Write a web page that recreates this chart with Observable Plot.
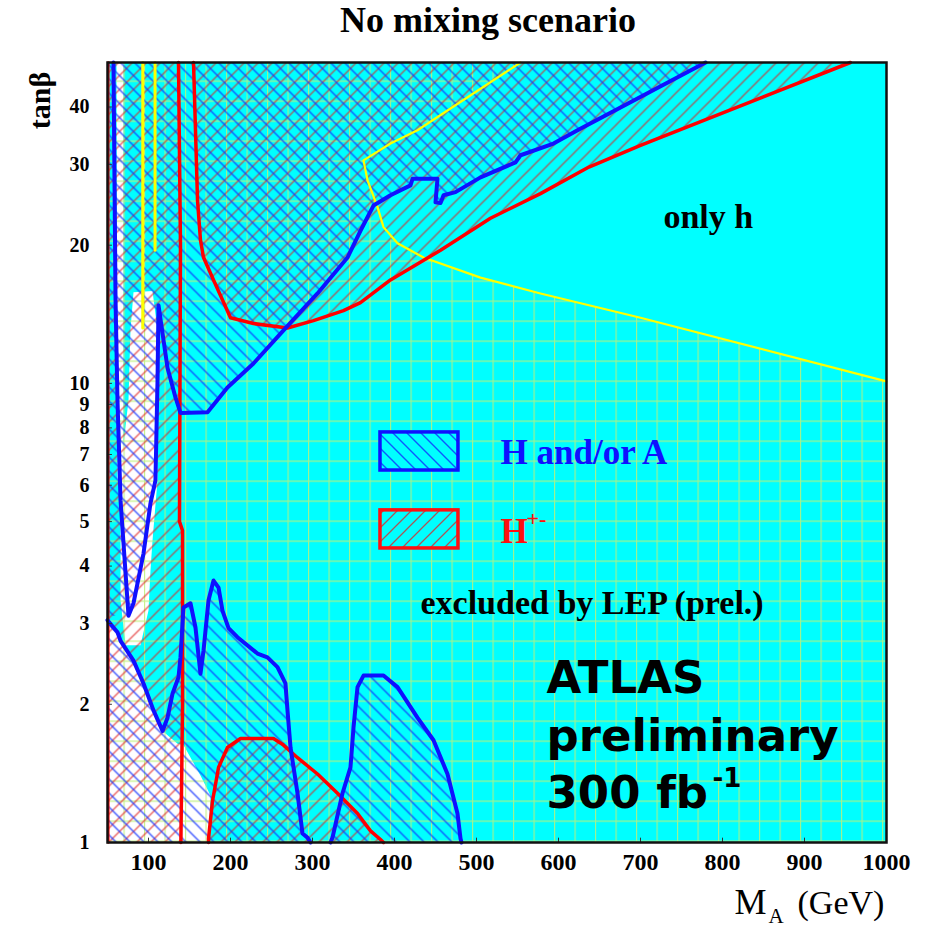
<!DOCTYPE html>
<html><head><meta charset="utf-8">
<script src="https://cdn.jsdelivr.net/npm/d3@7"></script>
<script src="https://cdn.jsdelivr.net/npm/@observablehq/plot@0.6"></script>
<style>
body{margin:0;background:#fff;}
#title{width:925px;height:40px;box-sizing:border-box;padding-left:51px;text-align:center;font:bold 36px "Liberation Serif",serif;line-height:40px;color:#000;}
</style></head><body>
<div id="title">No mixing scenario</div>
<div id="chart"></div>
<script>
const xTicks=[100,200,300,400,500,600,700,800,900,1000];
const yTicks=[1,2,3,4,5,6,7,8,9,10,20,30,40];

// LEP exclusion boundary (yellow)
const yellowLine=[[553.7,50],[428,35.6],[395.1,33.3],[362.2,30.6],[367.1,27.7],[379.3,24.2],[386.6,21.9],[403.7,20.2],[435.4,18.8],[504.9,17.0],[578,15.7],[700,13.9],[1000,10.1]];
const yellowStripA=[[93,50],[93,13.2]];
const yellowStripB=[[108,50],[108,19.5]];

// theoretically inaccessible (white)
const whiteLow=[[50,3.05],[57.3,2.94],[62.2,2.87],[65.9,2.75],[81.7,2.49],[93.9,2.22],[106.1,1.94],[117.1,1.75],[135.4,1.64],[142.7,1.63],[163.4,1.40],[175.6,1.266],[173.2,1],[50,1]];
const whiteStrip=[[61,50],[69.5,50],[69.5,6.15],[62.2,6.15]];
const whiteV=[[81.7,15.8],[104.9,15.9],[111,13.05],[111,6.15],[104.9,4.55],[102.4,3.91],[100,3.20],[90.2,2.69],[72,2.69],[65.9,3.37],[65.9,6.46],[75.6,9.18],[78,13.05]];

// H+- contours (red)
const redLeftLine=[[136.6,50],[139,20],[138,6.5],[137.8,5.0],[141.5,4.78],[141.5,2.0],[139.5,1]];
const redEdge=[[51,1],[51,50]];
const redUpperLine=[[154.9,50],[159.8,25.0],[163.4,20.5],[167.1,18.8],[179.3,16.8],[200,13.9],[228,13.5],[269.5,13.2],[301.2,13.7],[337.8,14.4],[358.5,15.0],[395.1,16.8],[456.1,19.5],[517,22.9],[578,25.9],[637.1,29.6],[700,33.0],[956,50]];
const redDomeLine=[[173.2,1],[173.2,1.02],[178,1.23],[185.4,1.457],[196.3,1.61],[212.2,1.685],[252.4,1.685],[264.6,1.63],[281.7,1.53],[306.1,1.41],[330.5,1.28],[354.9,1.157],[370.7,1.06],[382.9,1.015],[386.6,1]];

// H and/or A contours (blue)
const blueUpperLine=[[57.3,50],[59.8,15.2],[62.2,9.18],[65.9,5.56],[75.6,3.12],[81.7,3.32],[93.9,4.26],[102.4,5.48],[108.5,6.15],[111,10.15],[112.2,14.8],[123.2,10.8],[132.9,9.32],[139,8.62],[172,8.65],[196.3,9.8],[228,11.05],[264.6,13.05],[306.1,15.7],[342.7,18.8],[358.5,21.5],[374.4,24.4],[395.1,25.7],[419.5,27.0],[422,27.9],[452.4,27.9],[450,24.8],[456.1,24.7],[459.8,25.7],[474.4,26.1],[504.9,28.1],[547.6,30.3],[553.7,31.4],[593.9,33.3],[623.2,35.6],[779.3,50]];
const blueLowerLine=[[50,3.05],[57.3,2.94],[62.2,2.87],[65.9,2.75],[81.7,2.49],[93.9,2.22],[106.1,1.94],[117.1,1.75],[123.2,1.87],[129.3,2.11],[136.6,2.29],[139,2.53],[142.7,3.25],[151.2,3.32],[157.3,2.94],[163.4,2.33],[167.1,2.62],[173.2,3.37],[179.3,3.72],[185.4,3.59],[190.2,3.20],[197.6,2.93],[208.5,2.80],[232.9,2.58],[245.1,2.53],[257.3,2.41],[267,2.22],[269.5,1.94],[273.2,1.61],[281.7,1.28],[287.8,1.046],[293.9,1.025],[297.6,1]];
const blueHumpLine=[[322,1],[324.4,1.025],[336.6,1.28],[346.3,1.457],[350,1.78],[354.9,2.18],[362.2,2.31],[386.6,2.31],[403.7,2.18],[428,1.87],[447.6,1.67],[464.6,1.41],[476.8,1.157],[480.5,1.02],[481.7,1]];

// legend
const legendBoxes=[
  {m1:382.9,m2:478,t1:6.46,t2:7.82,stroke:"#1010ff",hatch:"url(#hatchBlue)"},
  {m1:382.9,m2:478,t1:4.37,t2:5.29,stroke:"#ff1010",hatch:"url(#hatchRed)"}
];
const notes=[
  {text:"only h",m:728,t:21.8,color:"#000",size:34},
  {text:"H and/or A",m:529.3,t:6.69,color:"#1010ff",size:35},
  {text:"H",m:529.3,t:4.50,color:"#ff1010",size:35},
  {text:"excluded by LEP (prel.)",m:431.7,t:3.15,color:"#000",size:34}
];
const superHpm=[{text:"+-",m:529.3,t:4.50}];
const atlasLines=[
  {text:"ATLAS",m:585.4,t:2.12},
  {text:"preliminary",m:585.4,t:1.586},
  {text:"300 fb",m:585.4,t:1.186}
];
const superLumi=[{text:"-1",m:585.4,t:1.186}];

const gridPoly=[[50,1],[50,50],...yellowLine,[1000,1]];
const redLeftPoly=[[50,1],[50,50],...redLeftLine];
const blueUpperPoly=[[50,50],[50,3.12],...blueUpperLine.slice(4)];
const blueLowerPoly=[...blueLowerLine,[50,1]];

const XY={x:d=>d[0],y:d=>d[1]};
function poly(pts,fill){return Plot.line(pts,{...XY,fill,stroke:"none",curve:"linear-closed"});}
function path(pts,stroke,w){return Plot.line(pts,{...XY,stroke,strokeWidth:w,strokeLinejoin:"round",strokeLinecap:"round"});}
const SERIF="'Liberation Serif', serif";
const CY="#00ffff";
const svg=Plot.plot({
  width:925,height:887,
  marginTop:22,marginBottom:85,marginLeft:107,marginRight:39,
  style:{fontFamily:SERIF,fontWeight:"bold",fontSize:"24px",background:"white",color:"black",overflow:"visible"},
  x:{domain:[50,1000],axis:null},
  y:{type:"log",domain:[1,50],axis:null},
  marks:[
    Plot.frame({fill:CY,stroke:"none"}),
    poly(whiteLow,"white"),
    poly(whiteStrip,"white"),
    poly(whiteV,"white"),
    poly(gridPoly,"url(#gridY)"),
    poly(redLeftPoly,"url(#hatchRed)"),
    poly(redUpperLine,"url(#hatchRed)"),
    poly(redDomeLine,"url(#hatchRed)"),
    poly(blueUpperPoly,"url(#hatchBlue)"),
    poly(blueLowerPoly,"url(#hatchBlue)"),
    poly(blueHumpLine,"url(#hatchBlue)"),
    path(yellowLine,"#ffff00",2.2),
    path(yellowStripA,"#ffff00",3),
    path(yellowStripB,"#ffff00",3),
    path(redEdge,"#ff0000",2.5),
    path(redLeftLine,"#ff0000",3.5),
    path(redUpperLine,"#ff0000",3.5),
    path(redDomeLine,"#ff0000",3.5),
    path(blueUpperLine,"#1010ff",4),
    path(blueLowerLine,"#1010ff",4),
    path(blueHumpLine,"#1010ff",4),
    Plot.rect(legendBoxes,{x1:"m1",x2:"m2",y1:"t1",y2:"t2",fill:CY}),
    Plot.rect(legendBoxes,{x1:"m1",x2:"m2",y1:"t1",y2:"t2",fill:"hatch",stroke:"stroke",strokeWidth:3.5}),
    Plot.text(notes,{x:"m",y:"t",text:"text",fill:"color",fontSize:"size",textAnchor:"start",lineAnchor:"bottom",fontFamily:SERIF,fontWeight:"bold"}),
    Plot.text(superHpm,{x:"m",y:"t",text:"text",fill:"#ff1010",fontSize:22,dx:26,dy:-17,textAnchor:"start",lineAnchor:"bottom",fontFamily:SERIF,fontWeight:"bold"}),
    Plot.text(atlasLines,{x:"m",y:"t",text:"text",fontSize:45,textAnchor:"start",lineAnchor:"bottom",fontFamily:"'DejaVu Sans', sans-serif",fontWeight:"bold",fill:"#000"}),
    Plot.text(superLumi,{x:"m",y:"t",text:"text",fontSize:26,dx:166,dy:-21,textAnchor:"start",lineAnchor:"bottom",fontFamily:"'DejaVu Sans', sans-serif",fontWeight:"bold",fill:"#000"}),
    // axes
    Plot.ruleX(xTicks,{x:d=>d,y1:1,y2:1.022,stroke:"#333",strokeWidth:1}),
    Plot.ruleY(yTicks,{y:d=>d,x1:50,x2:56,stroke:"#333",strokeWidth:1}),
    Plot.text(xTicks,{x:d=>d,frameAnchor:"bottom",dy:10,text:d=>String(d),textAnchor:"middle",lineAnchor:"top",fontSize:24,fontWeight:"bold",fontFamily:SERIF}),
    Plot.text(yTicks,{y:d=>d,frameAnchor:"left",dx:-18,text:d=>String(d),textAnchor:"end",lineAnchor:"middle",fontSize:20,fontWeight:"bold",fontFamily:SERIF}),
    Plot.text(["tanβ"],{frameAnchor:"top-left",dx:-67,dy:38,rotate:-90,textAnchor:"middle",lineAnchor:"middle",fontSize:30,fontWeight:"bold",fontFamily:SERIF}),
    Plot.text(["M"],{frameAnchor:"bottom-right",dx:-152,dy:71,textAnchor:"start",lineAnchor:"bottom",fontSize:36,fontWeight:"normal",fontFamily:SERIF}),
    Plot.text(["A"],{frameAnchor:"bottom-right",dx:-118,dy:80,textAnchor:"start",lineAnchor:"bottom",fontSize:21,fontWeight:"normal",fontFamily:SERIF}),
    Plot.text(["(GeV)"],{frameAnchor:"bottom-right",dx:-89,dy:71,textAnchor:"start",lineAnchor:"bottom",fontSize:34,fontWeight:"normal",fontFamily:SERIF}),
    Plot.frame({stroke:"#111",strokeWidth:2.5})
  ]
});
const defs=d3.select(svg).insert("defs",":first-child");
function pat(id,w,h,d,color,sw,op){
  const p=defs.append("pattern").attr("id",id).attr("patternUnits","userSpaceOnUse").attr("width",w).attr("height",h);
  p.append("path").attr("d",d).attr("fill","none").attr("stroke",color).attr("stroke-width",sw).attr("stroke-opacity",op);
}
pat("hatchBlue",14,14,"M0,0L14,14M-7,7L7,21M7,-7L21,7","#1030ff",1.4,0.8);
pat("hatchRed",14,14,"M0,14L14,0M-7,7L7,-7M7,21L21,7","#e02020",1.3,0.75);
pat("gridY",20.5,20,"M0.5,0V20M0,0.5H20.5","#bdf07a",1.3,0.85);
document.getElementById("chart").appendChild(svg);
</script></body></html>
